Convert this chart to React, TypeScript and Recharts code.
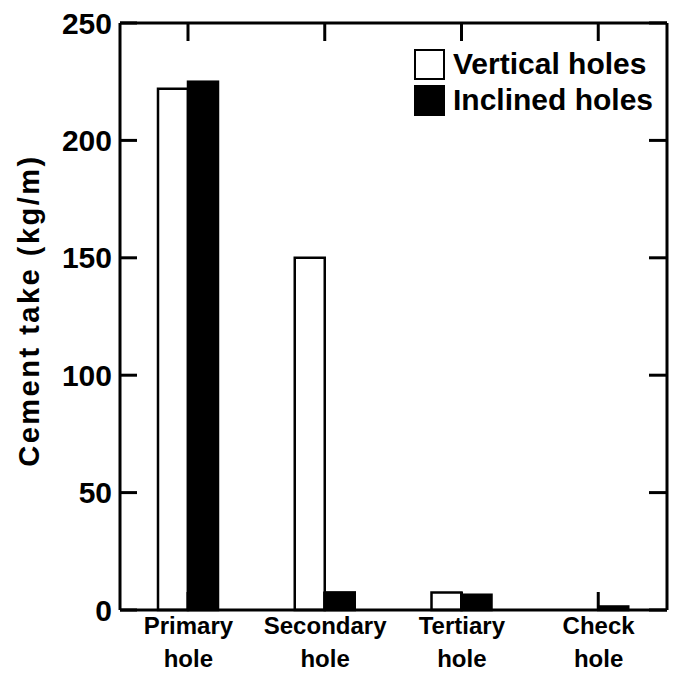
import { Bar, ComposedChart, Legend, Line, ReferenceLine, XAxis, YAxis } from 'recharts'

const categories = ['Primary hole', 'Secondary hole', 'Tertiary hole', 'Check hole']
const seriesNames = ['Vertical holes', 'Inclined holes']
const verticalHoles = [222, 150, 7.5, 0]
const inclinedHoles = [225, 7.5, 6.5, 1.5]
const yTicks = [0, 50, 100, 150, 200, 250]
const yMax = 250

const data = categories.map((name, i) => ({
  name,
  vertical: verticalHoles[i],
  inclined: inclinedHoles[i],
}))

const WIDTH = 681
const HEIGHT = 673
const MARGIN = { top: 23, right: 13, bottom: 0, left: 0 }
const X_AXIS_HEIGHT = 63
const PLOT_TOP = MARGIN.top
const PLOT_BOTTOM = HEIGHT - MARGIN.bottom - X_AXIS_HEIGHT
const TICK = 18

const font = '"Liberation Sans", Arial, sans-serif'
const line = { stroke: '#000', strokeWidth: 3 }

// two-line category labels ("Primary" / "hole")
function CategoryTick({ x, y, payload }: any) {
  const [first, second] = String(payload.value).split(' ')
  return (
    <text textAnchor="middle" fontSize={24} fontWeight="bold" fill="#000" fontFamily={font}>
      <tspan x={x} y={y + 24}>{first}</tspan>
      <tspan x={x} y={y + 57}>{second}</tspan>
    </text>
  )
}

// inclined bar; its left edge sits on the category centre, so the
// inward category ticks of the top and bottom frame are drawn here too
function InclinedBar(props: any) {
  const { x, y, width, height, fill, stroke, strokeWidth } = props
  return (
    <g>
      <rect x={x} y={y} width={width} height={Math.max(height, 0)} fill={fill} stroke={stroke} strokeWidth={strokeWidth} />
      <line x1={x} x2={x} y1={PLOT_TOP} y2={PLOT_TOP + TICK} stroke="#000" strokeWidth={3} />
      <line x1={x} x2={x} y1={PLOT_BOTTOM} y2={PLOT_BOTTOM - TICK} stroke="#000" strokeWidth={3} />
    </g>
  )
}

const NoLabel = () => <g />

function LegendContent({ payload }: any) {
  const items = [...(payload || [])]
    .filter((a: any) => seriesNames.includes(a.value))
    .sort((a: any, b: any) => seriesNames.indexOf(a.value) - seriesNames.indexOf(b.value))
  return (
    <div style={{ fontFamily: font }}>
      {items.map((entry: any) => (
        <div key={entry.value} style={{ display: 'flex', alignItems: 'center', height: 36 }}>
          <span
            style={{
              display: 'inline-block',
              width: 31,
              height: 31,
              boxSizing: 'border-box',
              border: '2px solid #000',
              background: entry.color,
              marginRight: 8,
            }}
          />
          <span style={{ fontSize: 30, fontWeight: 'bold', color: '#000', lineHeight: '36px' }}>
            {entry.value}
          </span>
        </div>
      ))}
    </div>
  )
}

function YLabel({ viewBox }: any) {
  const cx = viewBox.x + 29
  const cy = viewBox.y + viewBox.height / 2 - 6
  return (
    <text
      transform={`translate(${cx}, ${cy}) rotate(-90)`}
      textAnchor="middle"
      dominantBaseline="central"
      fontSize={29}
      fontWeight="bold"
      letterSpacing={2.5}
      fontFamily={font}
      fill="#000"
    >
      Cement take (kg/m)
    </text>
  )
}

export default function App() {
  return (
    <div style={{ position: 'absolute', left: 0, top: 0, background: '#fff' }}>
      <ComposedChart
        width={WIDTH}
        height={HEIGHT}
        data={data}
        margin={MARGIN}
        barSize={30}
        barGap={0}
        style={{ fontFamily: font }}
      >
        <XAxis
          dataKey="name"
          height={X_AXIS_HEIGHT}
          axisLine={line}
          tickLine={false}
          tickSize={0}
          tickMargin={0}
          tick={<CategoryTick />}
          interval={0}
        />
        <YAxis
          domain={[0, yMax]}
          ticks={yTicks}
          width={120}
          axisLine={line}
          tickLine={line}
          tickSize={-17}
          tickMargin={25}
          tick={{ fill: '#000', fontSize: 30, fontWeight: 'bold', fontFamily: font }}
          label={<YLabel />}
        />
        <YAxis
          yAxisId="right"
          orientation="right"
          domain={[0, yMax]}
          ticks={yTicks}
          width={1}
          axisLine={line}
          tickLine={line}
          tickSize={-18}
          tick={NoLabel}
        />
        {/* top frame */}
        <ReferenceLine y={yMax} stroke="#000" strokeWidth={3} />
        <Legend
          layout="vertical"
          align="center"
          verticalAlign="middle"
          wrapperStyle={{ top: 46, left: 414, width: 260 }}
          content={<LegendContent />}
        />
        <Bar dataKey="vertical" name={seriesNames[0]} fill="#fff" stroke="#000" strokeWidth={2.5} isAnimationActive={false} />
        <Bar
          dataKey="inclined"
          name={seriesNames[1]}
          fill="#000"
          stroke="#000"
          strokeWidth={2.5}
          shape={<InclinedBar />}
          isAnimationActive={false}
        />
        {/* invisible series so the right frame axis gets its ticks */}
        <Line
          yAxisId="right"
          dataKey="vertical"
          stroke="none"
          dot={false}
          activeDot={false}
          legendType="none"
          isAnimationActive={false}
        />
      </ComposedChart>
    </div>
  )
}
